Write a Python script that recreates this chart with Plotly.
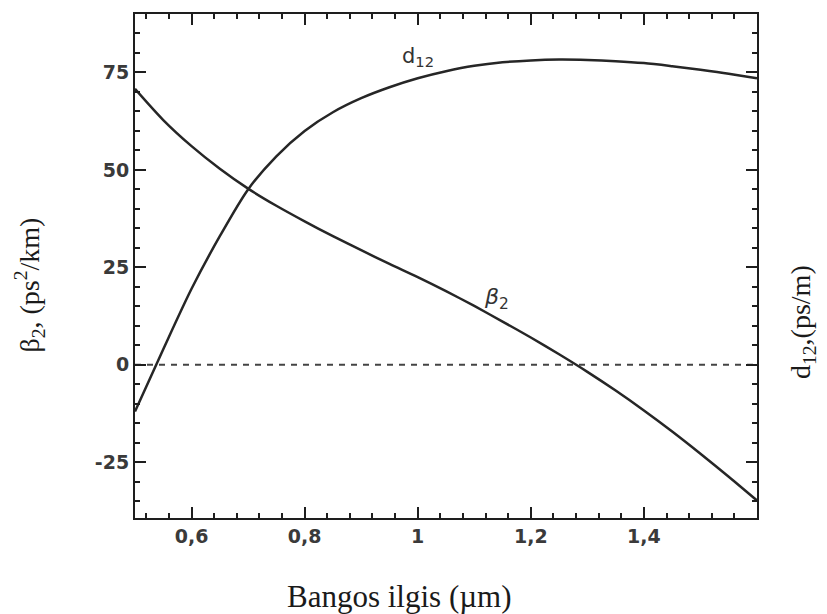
import plotly.graph_objects as go

# Wavelength grid (µm) and the two dispersion curves
wavelength = [0.50, 0.55, 0.60, 0.65, 0.70, 0.75, 0.80, 0.85, 0.90, 0.95, 1.00,
              1.05, 1.10, 1.15, 1.20, 1.25, 1.30, 1.35, 1.40, 1.45, 1.50, 1.55, 1.60]
beta2 = [70.8, 62.8, 56.1, 50.3, 45.2, 40.8, 36.8, 33.0, 29.4, 25.9, 22.5,
         18.9, 15.1, 11.1, 7.0, 2.7, -1.8, -6.6, -11.7, -17.1, -22.8, -28.7, -34.8]
d12 = [-12.0, 4.0, 19.5, 33.0, 45.0, 53.5, 60.0, 64.8, 68.4, 71.2, 73.5,
       75.3, 76.7, 77.6, 78.1, 78.3, 78.2, 77.9, 77.4, 76.6, 75.7, 74.7, 73.5]

x_ticks = [0.6, 0.8, 1.0, 1.2, 1.4]
x_ticktext = ["0,6", "0,8", "1", "1,2", "1,4"]
y_ticks = [-25, 0, 25, 50, 75]
y_ticktext = ["-25", "0", "25", "50", "75"]

ink = "#262626"
tick_font = dict(family="DejaVu Sans", size=19, color="#3a3a3a", weight="bold")
title_font = dict(family="Liberation Serif", size=31, color="#1a1a1a")
side_title_font = dict(family="Liberation Serif", size=28, color="#1a1a1a")

fig = go.Figure()

# zero reference line
fig.add_trace(go.Scatter(x=[wavelength[0], wavelength[-1]], y=[0, 0], mode="lines",
                         line=dict(color="#444444", width=2, dash="6px,6px"),
                         hoverinfo="skip", showlegend=False))
fig.add_trace(go.Scatter(x=wavelength, y=beta2, mode="lines", line_shape="spline",
                         line=dict(color=ink, width=2.5, smoothing=0.8), showlegend=False))
fig.add_trace(go.Scatter(x=wavelength, y=d12, mode="lines", line_shape="spline",
                         line=dict(color=ink, width=2.5, smoothing=0.8), showlegend=False))

axis_common = dict(showgrid=False, zeroline=False, showline=True, linewidth=2,
                   linecolor="#1e1e1e", mirror="ticks", ticks="inside",
                   ticklen=11, tickwidth=2, tickcolor="#1e1e1e", tickfont=tick_font)

fig.update_xaxes(range=[0.5, 1.6], tickmode="array", tickvals=x_ticks, ticktext=x_ticktext,
                 minor=dict(ticks="inside", ticklen=5, tickwidth=1.5, tick0=0.6, dtick=0.04,
                            tickcolor="#1e1e1e"),
                 **axis_common)
fig.update_yaxes(range=[-39.3, 90], tickmode="array", tickvals=y_ticks, ticktext=y_ticktext,
                 minor=dict(ticks="inside", ticklen=5, tickwidth=1.5, tick0=0, dtick=5,
                            tickcolor="#1e1e1e"),
                 **axis_common)

annotations = [
    dict(x=1.0, y=79, xref="x", yref="y", text="d<sub>12</sub>", showarrow=False,
         font=dict(family="DejaVu Sans", size=21, color="#333333")),
    dict(x=1.14, y=17, xref="x", yref="y", text="<i>β</i><sub>2</sub>", showarrow=False,
         font=dict(family="DejaVu Sans", size=22, color="#333333")),
    dict(x=0.426, y=-0.156, xref="paper", yref="paper", text="Bangos ilgis (µm)",
         xanchor="center", yanchor="middle", showarrow=False, font=title_font),
    dict(x=-0.169, y=0.463, xref="paper", yref="paper", textangle=-90,
         xanchor="center", yanchor="middle",
         text="β<sub>2</sub>, (ps<sup>2</sup>/km)", showarrow=False, font=side_title_font),
    dict(x=1.074, y=0.389, xref="paper", yref="paper", textangle=-90,
         xanchor="center", yanchor="middle",
         text="d<sub>12</sub>,(ps/m)", showarrow=False, font=side_title_font),
]

fig.update_layout(width=827, height=614, autosize=False,
                  margin=dict(l=135, r=70, t=12, b=96),
                  paper_bgcolor="white", plot_bgcolor="white",
                  annotations=annotations)

fig.write_html("out.html")
